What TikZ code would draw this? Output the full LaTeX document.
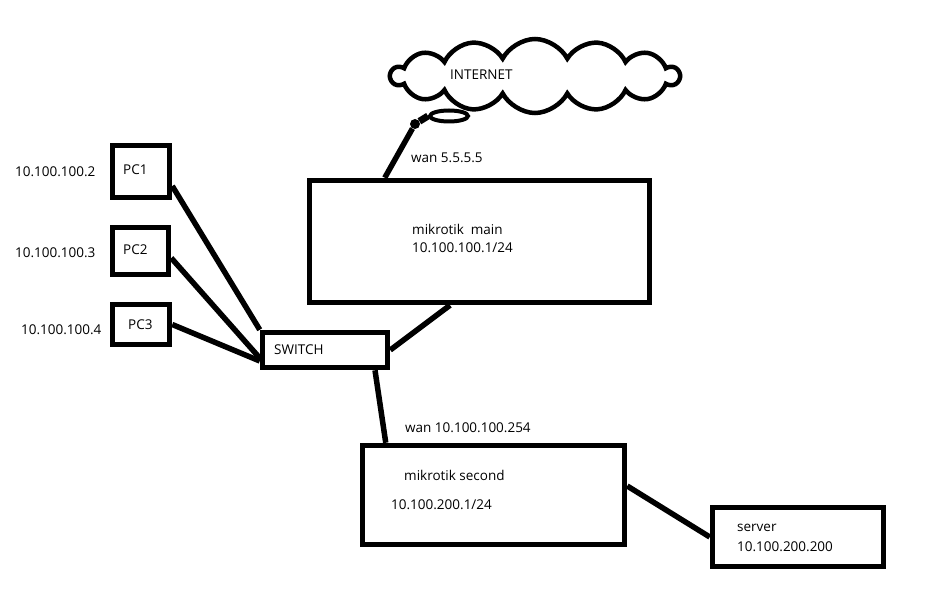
\documentclass[tikz,border=0pt]{standalone}
\usepackage{fontspec}
\setmainfont{Open Sans}
\usetikzlibrary{shapes.symbols,shapes.geometric}

\begin{document}
\begin{tikzpicture}
[   x=1pt, y=-1pt,
    box/.style={draw, line width=5.5pt, rectangle, inner sep=0},
    wire/.style={line width=5.5pt},
    lbl/.style={anchor=west, inner sep=0, font=\fontsize{13.5}{16}\selectfont}
]
    \useasboundingbox (0,0) rectangle (929,604);

    % cloud and its little tail
    \node[cloud, draw, line width=4.5pt, cloud puffs=14, cloud puff arc=125,
          cloud ignores aspect, minimum width=288pt, minimum height=74pt]
        (Net) at (535,76) {};
    \node[ellipse, draw, line width=4pt, minimum width=38pt, minimum height=11pt,
          inner sep=0] (Ring) at (449,116) {};
    \node[circle, fill, minimum size=10pt, inner sep=0] (Knot) at (415,124) {};
    \draw[wire, line width=7pt] (Knot) -- (Ring.west);

    % boxes
    \node[box, minimum width=57pt, minimum height=52pt] (PC1) at (141,171.5) {};
    \node[box, minimum width=56pt, minimum height=47pt] (PC2) at (140.5,251) {};
    \node[box, minimum width=57pt, minimum height=40pt] (PC3) at (141,324.5) {};
    \node[box, minimum width=125pt, minimum height=35pt] (SW) at (325,350) {};
    \node[box, minimum width=340pt, minimum height=122pt] (Main) at (479.5,241.5) {};
    \node[box, minimum width=262pt, minimum height=99pt] (Second) at (493.5,495) {};
    \node[box, minimum width=171pt, minimum height=59pt] (Server) at (798,537) {};

    % texts
    \node[lbl] (ipPC1) at (15,172) {10.100.100.2};
    \node[lbl] (ipPC2) at (15,253) {10.100.100.3};
    \node[lbl] (ipPC3) at (21,330) {10.100.100.4};
    \node[lbl] (tPC1) at (123,170) {PC1};
    \node[lbl] (tPC2) at (123,250) {PC2};
    \node[lbl] (tPC3) at (128,325) {PC3};
    \node[lbl] (tSW) at (274,350) {SWITCH};
    \node[lbl] (tNet) at (450,75) {INTERNET};
    \node[lbl] (wanMain) at (411,158) {wan 5.5.5.5};
    \node[lbl] (tMain) at (412,229) {mikrotik\ \ main};
    \node[lbl] (ipMain) at (412,248) {10.100.100.1/24};
    \node[lbl] (wanSecond) at (405,428) {wan 10.100.100.254};
    \node[lbl] (tSecond) at (404,475) {mikrotik second};
    \node[lbl] (ipSecond) at (391,505) {10.100.200.1/24};
    \node[lbl] (tServer) at (737,528) {server};
    \node[lbl] (ipServer) at (737,547) {10.100.200.200};

    % links
    \draw[wire] ([xshift=78pt]Main.north west) -- (Knot);
    \draw[wire] ([yshift=-14.5pt]PC1.east) -- (SW.north west);
    \draw[wire] ([yshift=-7pt]PC2.east) -- ([yshift=-8pt]SW.west);
    \draw[wire] (PC3.east) -- ([yshift=-11pt]SW.west);
    \draw[wire] (SW.east) -- ([xshift=-29.5pt]Main.south);
    \draw[wire] ([xshift=50pt]SW.south) -- ([xshift=26pt]Second.north west);
    \draw[wire] ([yshift=9pt]Second.east) -- (Server.west);
\end{tikzpicture}
\end{document}
